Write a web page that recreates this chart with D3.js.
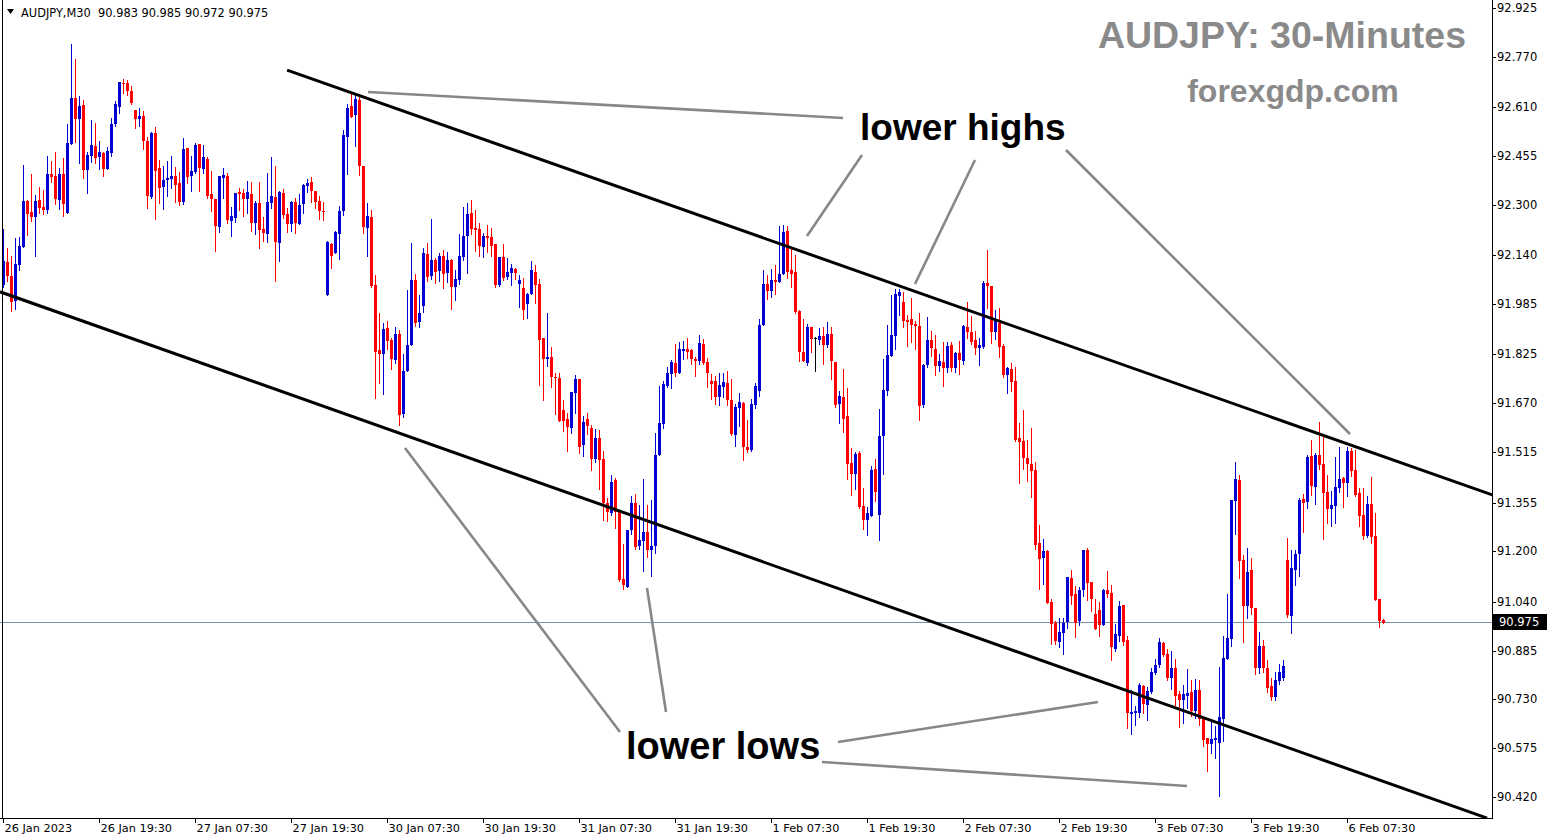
<!DOCTYPE html>
<html>
<head>
<meta charset="utf-8">
<script src="https://cdn.jsdelivr.net/npm/d3@7"></script>
<style>
  html, body { margin: 0; padding: 0; background: #fff; }
  svg { display: block; }
  text { white-space: pre; }
</style>
</head>
<body>
<svg id="chart" width="1550" height="840"></svg>
<script>
// ---------------- DATA (AUDJPY M30) ----------------
const symbol = "AUDJPY,M30";
const open = [
92.045,92.119,92.074,91.995,92.109,92.166,92.312,92.278,92.262,92.315,
92.293,92.284,92.398,92.392,92.315,92.398,92.274,92.493,92.639,92.572,
92.617,92.411,92.455,92.487,92.452,92.465,92.414,92.465,92.557,92.611,
92.686,92.686,92.662,92.601,92.572,92.582,92.503,92.325,92.528,92.417,
92.357,92.379,92.382,92.392,92.369,92.309,92.481,92.392,92.404,92.493,
92.414,92.446,92.334,92.318,92.230,92.385,92.392,92.249,92.258,92.341,
92.337,92.318,92.334,92.242,92.306,92.223,92.208,92.306,92.325,92.179,
92.337,92.271,92.239,92.309,92.239,92.303,92.360,92.373,92.344,92.312,
92.280,92.014,92.176,92.147,92.208,92.280,92.515,92.614,92.585,92.633,
92.423,92.227,92.262,92.045,91.839,91.826,91.909,91.871,91.807,91.890,
91.636,91.773,91.855,92.061,91.928,91.979,92.144,92.074,92.125,92.090,
92.138,92.083,92.125,92.039,92.061,92.134,92.201,92.274,92.226,92.223,
92.166,92.201,92.198,92.176,92.045,92.134,92.071,92.083,92.096,92.049,
92.036,91.985,92.017,92.087,92.049,91.877,91.810,91.817,91.754,91.750,
91.649,91.620,91.592,91.703,91.747,91.537,91.620,91.592,91.493,91.560,
91.493,91.353,91.321,91.426,91.328,91.112,91.087,91.268,91.353,91.217,
91.233,91.261,91.204,91.217,91.506,91.604,91.725,91.763,91.798,91.766,
91.836,91.842,91.839,91.810,91.804,91.858,91.801,91.741,91.741,91.690,
91.722,91.735,91.680,91.569,91.655,91.671,91.531,91.522,91.665,91.709,
91.918,92.049,92.026,92.061,92.055,92.080,92.217,92.093,92.087,91.963,
91.833,91.798,91.912,91.877,91.871,91.884,91.855,91.890,91.801,91.668,
91.690,91.630,91.480,91.445,91.512,91.344,91.299,91.312,91.461,91.315,
91.566,91.709,91.820,91.884,92.010,91.992,91.934,91.937,91.922,91.915,
91.665,91.792,91.871,91.842,91.788,91.801,91.782,91.855,91.782,91.830,
91.804,91.912,91.896,91.871,91.845,91.849,92.052,92.042,91.896,91.925,
91.852,91.760,91.779,91.741,91.560,91.550,91.496,91.477,91.458,91.226,
91.179,91.201,91.039,90.972,90.912,90.941,90.976,91.115,91.064,90.979,
91.077,91.204,91.103,91.001,91.014,90.966,91.077,91.068,90.890,90.931,
91.029,90.918,90.683,90.686,90.686,90.772,90.712,90.753,90.814,90.839,
90.909,90.874,90.798,90.829,90.747,90.728,90.741,90.753,90.693,90.760,
90.667,90.607,90.588,90.601,90.591,90.667,90.858,90.922,91.360,91.426,
91.172,91.026,91.141,91.020,90.829,90.899,90.829,90.772,90.738,90.788,
90.798,91.172,90.995,91.141,91.191,91.366,91.356,91.503,91.404,91.506,
91.477,91.388,91.334,91.344,91.401,91.433,91.417,91.518,91.458,91.385,
91.315,91.249,91.350,91.249,91.049,90.983];
const high = [
92.223,92.163,92.138,92.195,92.198,92.426,92.315,92.398,92.331,92.357,
92.347,92.455,92.439,92.468,92.417,92.449,92.557,92.810,92.763,92.646,
92.633,92.468,92.569,92.560,92.503,92.468,92.484,92.576,92.630,92.690,
92.699,92.696,92.677,92.601,92.608,92.598,92.515,92.531,92.547,92.442,
92.423,92.439,92.455,92.420,92.404,92.512,92.481,92.455,92.496,92.493,
92.490,92.452,92.407,92.318,92.392,92.417,92.401,92.293,92.337,92.353,
92.350,92.376,92.373,92.312,92.373,92.262,92.401,92.452,92.423,92.344,
92.350,92.290,92.312,92.322,92.334,92.366,92.382,92.389,92.344,92.328,
92.309,92.185,92.179,92.217,92.296,92.538,92.620,92.652,92.649,92.649,
92.423,92.306,92.284,92.077,91.956,91.925,91.931,91.877,91.912,91.903,
91.826,92.030,92.179,92.080,92.014,92.163,92.179,92.255,92.131,92.147,
92.157,92.150,92.128,92.093,92.207,92.293,92.306,92.315,92.284,92.242,
92.211,92.236,92.226,92.176,92.134,92.176,92.131,92.112,92.099,92.077,
92.068,92.020,92.122,92.109,92.064,91.877,91.956,91.849,91.766,91.766,
91.680,91.639,91.706,91.760,91.747,91.630,91.639,91.601,91.588,91.585,
91.519,91.369,91.442,91.433,91.328,91.223,91.268,91.376,91.382,91.347,
91.429,91.347,91.363,91.576,91.725,91.741,91.785,91.807,91.858,91.864,
91.868,91.877,91.842,91.817,91.887,91.874,91.814,91.763,91.757,91.766,
91.766,91.773,91.747,91.668,91.703,91.674,91.617,91.684,91.735,91.937,
92.093,92.077,92.096,92.109,92.233,92.236,92.233,92.163,92.141,91.966,
91.937,91.922,91.912,91.880,91.909,91.912,91.928,91.912,91.801,91.709,
91.779,91.719,91.528,91.515,91.519,91.401,91.341,91.471,91.493,91.652,
91.811,91.918,92.014,92.033,92.033,92.023,91.950,92.004,91.931,91.956,
91.795,91.944,91.899,91.887,91.826,91.864,91.864,91.864,91.833,91.868,
91.918,91.992,91.947,91.899,91.877,92.058,92.157,92.042,91.966,91.972,
91.858,91.785,91.798,91.785,91.607,91.649,91.553,91.591,91.484,91.283,
91.239,91.204,91.049,90.979,90.988,90.988,91.118,91.141,91.090,91.087,
91.204,91.210,91.103,91.049,91.039,91.080,91.138,91.093,90.969,91.042,
91.029,90.931,90.760,90.709,90.782,90.775,90.769,90.829,90.858,90.925,
90.912,90.890,90.884,90.858,90.757,90.775,90.826,90.791,90.794,90.791,
90.667,90.607,90.664,90.645,90.833,90.931,91.064,91.363,91.484,91.442,
91.188,91.210,91.179,91.020,90.944,90.918,90.855,90.798,90.817,90.842,
90.855,91.242,91.204,91.204,91.369,91.382,91.506,91.553,91.512,91.611,
91.573,91.442,91.391,91.499,91.531,91.436,91.531,91.528,91.522,91.401,
91.401,91.376,91.436,91.321,91.049,90.985];
const low = [
92.039,92.058,91.963,91.969,92.093,92.166,92.204,92.249,92.138,92.274,
92.271,92.274,92.373,92.303,92.287,92.265,92.274,92.493,92.500,92.433,
92.385,92.337,92.436,92.433,92.414,92.392,92.414,92.455,92.550,92.592,
92.655,92.649,92.620,92.544,92.550,92.477,92.290,92.322,92.255,92.306,
92.287,92.328,92.353,92.309,92.299,92.303,92.369,92.344,92.401,92.344,
92.401,92.322,92.280,92.154,92.214,92.322,92.242,92.201,92.246,92.284,
92.265,92.274,92.217,92.208,92.163,92.185,92.182,92.290,92.058,92.122,
92.258,92.214,92.217,92.211,92.239,92.274,92.341,92.309,92.290,92.255,
92.252,92.014,92.099,92.147,92.128,92.268,92.398,92.579,92.487,92.395,
92.211,92.138,92.039,91.687,91.734,91.699,91.842,91.779,91.798,91.601,
91.626,91.773,91.855,91.915,91.912,91.960,92.058,92.064,92.052,92.058,
92.036,92.055,91.969,91.998,92.049,92.125,92.083,92.207,92.154,92.138,
92.134,92.150,92.138,92.039,92.042,92.061,92.064,92.045,92.064,91.975,
91.937,91.941,92.017,91.988,91.728,91.680,91.788,91.722,91.636,91.614,
91.582,91.518,91.576,91.639,91.512,91.503,91.572,91.458,91.484,91.398,
91.299,91.296,91.315,91.274,91.106,91.080,91.087,91.255,91.207,91.207,
91.138,91.182,91.122,91.195,91.506,91.592,91.722,91.719,91.757,91.766,
91.810,91.814,91.795,91.757,91.795,91.795,91.722,91.684,91.668,91.665,
91.690,91.665,91.569,91.534,91.598,91.490,91.515,91.519,91.655,91.693,
91.918,92.001,92.007,92.017,92.055,92.080,92.068,92.039,91.956,91.804,
91.804,91.792,91.833,91.773,91.858,91.795,91.849,91.747,91.658,91.607,
91.579,91.429,91.379,91.398,91.337,91.271,91.252,91.312,91.360,91.236,
91.445,91.696,91.820,91.842,91.950,91.912,91.852,91.865,91.842,91.617,
91.658,91.785,91.820,91.760,91.773,91.725,91.769,91.773,91.769,91.763,
91.795,91.877,91.858,91.826,91.792,91.845,91.972,91.861,91.874,91.817,
91.754,91.703,91.709,91.550,91.417,91.461,91.423,91.372,91.207,91.080,
91.096,91.036,90.906,90.906,90.896,90.874,90.957,91.033,90.928,90.966,
91.058,91.045,91.011,90.953,90.931,90.966,91.055,90.855,90.884,90.915,
90.903,90.639,90.620,90.648,90.674,90.686,90.664,90.750,90.810,90.833,
90.868,90.791,90.763,90.712,90.642,90.655,90.703,90.677,90.671,90.648,
90.582,90.503,90.560,90.544,90.423,90.598,90.858,90.899,91.255,91.115,
90.912,90.988,91.001,90.810,90.814,90.817,90.753,90.728,90.728,90.779,
90.791,90.991,90.941,91.093,91.122,91.261,91.337,91.379,91.350,91.461,
91.239,91.290,91.280,91.290,91.388,91.341,91.376,91.439,91.376,91.280,
91.239,91.245,91.226,91.045,90.960,90.972];
const close = [
92.122,92.074,91.992,92.112,92.169,92.312,92.271,92.262,92.312,92.290,
92.284,92.398,92.389,92.318,92.398,92.303,92.496,92.639,92.572,92.614,
92.411,92.458,92.490,92.449,92.468,92.414,92.471,92.557,92.620,92.690,
92.683,92.662,92.623,92.572,92.582,92.503,92.328,92.528,92.407,92.353,
92.379,92.385,92.392,92.363,92.309,92.477,92.389,92.407,92.490,92.417,
92.452,92.328,92.318,92.233,92.392,92.395,92.252,92.265,92.337,92.334,
92.318,92.341,92.242,92.306,92.220,92.211,92.309,92.328,92.182,92.341,
92.268,92.239,92.309,92.242,92.299,92.363,92.369,92.344,92.309,92.280,
92.277,92.182,92.138,92.214,92.280,92.522,92.608,92.579,92.636,92.423,
92.230,92.265,92.042,91.833,91.826,91.906,91.868,91.810,91.890,91.633,
91.773,91.855,92.061,91.925,91.956,92.147,92.071,92.125,92.087,92.138,
92.080,92.125,92.039,92.064,92.138,92.201,92.271,92.223,92.220,92.169,
92.201,92.195,92.169,92.045,92.134,92.068,92.087,92.099,92.083,92.061,
91.966,92.017,92.093,92.045,91.871,91.810,91.817,91.754,91.750,91.614,
91.614,91.595,91.706,91.747,91.531,91.611,91.598,91.493,91.560,91.490,
91.353,91.325,91.420,91.325,91.109,91.093,91.268,91.353,91.214,91.236,
91.261,91.204,91.217,91.506,91.608,91.731,91.766,91.801,91.766,91.842,
91.842,91.833,91.810,91.804,91.861,91.798,91.766,91.731,91.690,91.728,
91.738,91.680,91.572,91.658,91.674,91.531,91.522,91.668,91.725,91.918,
92.049,92.026,92.061,92.055,92.080,92.214,92.087,92.080,91.960,91.833,
91.804,91.912,91.874,91.877,91.884,91.855,91.890,91.804,91.665,91.693,
91.620,91.477,91.445,91.509,91.341,91.299,91.321,91.458,91.388,91.566,
91.712,91.823,91.887,92.017,92.023,91.931,91.928,91.918,91.915,91.661,
91.792,91.871,91.845,91.788,91.804,91.782,91.852,91.782,91.830,91.807,
91.915,91.896,91.865,91.845,91.855,92.052,92.042,91.896,91.937,91.849,
91.760,91.782,91.738,91.553,91.547,91.496,91.477,91.455,91.220,91.175,
91.201,91.036,90.969,90.915,90.944,90.972,91.118,91.058,90.972,91.077,
91.204,91.099,91.049,90.953,90.966,91.077,91.064,90.896,90.937,91.026,
90.912,90.686,90.690,90.693,90.775,90.715,90.757,90.817,90.839,90.912,
90.871,90.798,90.829,90.741,90.728,90.747,90.750,90.693,90.760,90.667,
90.601,90.588,90.604,90.607,90.674,90.861,90.925,91.363,91.429,91.169,
91.026,91.134,91.020,90.829,90.899,90.829,90.766,90.738,90.791,90.817,
90.836,90.998,91.147,91.191,91.363,91.353,91.499,91.407,91.506,91.474,
91.385,91.334,91.347,91.404,91.429,91.417,91.518,91.455,91.379,91.312,
91.249,91.350,91.245,91.045,90.979,90.975];

// time axis labels (bar index -> label)
const timeTickIndex = [0,24,48,72,96,120,144,168,192,216,240,264,288,312,336];
const timeTickLabels = ["26 Jan 2023","26 Jan 19:30","27 Jan 07:30","27 Jan 19:30","30 Jan 07:30",
  "30 Jan 19:30","31 Jan 07:30","31 Jan 19:30","1 Feb 07:30","1 Feb 19:30","2 Feb 07:30",
  "2 Feb 19:30","3 Feb 07:30","3 Feb 19:30","6 Feb 07:30"];
// price axis labels
const priceTicks = [92.925,92.770,92.610,92.455,92.300,92.140,91.985,91.825,91.670,91.515,
  91.355,91.200,91.040,90.885,90.730,90.575,90.420];
const lastPrice = 90.975;
// channel lines: [bar index, price]
const upperChannel = [[70.9, 92.728], [372.2, 91.379]];
const lowerChannel = [[-0.875, 92.024], [370.9, 90.353]];

// ---------------- LAYOUT ----------------
const W = 1550, H = 840;
const plotRight = 1492, plotBottom = 818;
const svg = d3.select("#chart");
svg.append("rect").attr("width", W).attr("height", H).attr("fill", "#fff");

const x = d3.scaleLinear().domain([0, open.length - 1]).range([3.5, 3.5 + 4 * (open.length - 1)]);
const y = d3.scaleLinear().domain([90.420, 92.925]).range([797, 8]);

const BLUE = "#0000d0", RED = "#ff0000";
const bars = open.map((o, i) => ({ i, o, h: high[i], l: low[i], c: close[i] }));
const col = d => d.c > d.o ? BLUE : (d.c < d.o ? RED : "#000");

svg.append("defs").append("clipPath").attr("id", "plotclip")
  .append("rect").attr("x", 0).attr("y", 0).attr("width", plotRight).attr("height", plotBottom);

const plot = svg.append("g").attr("clip-path", "url(#plotclip)");

// current price line
plot.append("line")
  .attr("x1", 0).attr("x2", plotRight)
  .attr("y1", Math.round(y(lastPrice)) + 0.5).attr("y2", Math.round(y(lastPrice)) + 0.5)
  .attr("stroke", "#7890a8").attr("stroke-width", 1);

// candles
const cg = plot.append("g").attr("shape-rendering", "crispEdges");
cg.selectAll("line.wick").data(bars).join("line")
  .attr("class", "wick")
  .attr("x1", d => x(d.i)).attr("x2", d => x(d.i))
  .attr("y1", d => Math.round(y(d.h))).attr("y2", d => Math.round(y(d.l)) + 1)
  .attr("stroke", col).attr("stroke-width", 1);
cg.selectAll("rect.body").data(bars).join("rect")
  .attr("class", "body")
  .attr("x", d => x(d.i) - 1.5).attr("width", 3)
  .attr("y", d => Math.round(Math.min(y(d.o), y(d.c))))
  .attr("height", d => Math.max(1, Math.round(Math.abs(y(d.o) - y(d.c)))))
  .attr("fill", col);

// channel lines
[upperChannel, lowerChannel].forEach(pts => {
  plot.append("line")
    .attr("x1", x(pts[0][0])).attr("y1", y(pts[0][1]))
    .attr("x2", x(pts[1][0])).attr("y2", y(pts[1][1]))
    .attr("stroke", "#000").attr("stroke-width", 3);
});

// annotation pointers (gray)
const pointers = [
  [368, 92, 843, 118], [862, 155, 807, 236], [975, 160, 915, 284], [1066, 150, 1350, 434],
  [405, 448, 620, 732], [647, 588, 666, 712], [838, 742, 1098, 702], [822, 762, 1187, 786]
];
plot.selectAll("line.ptr").data(pointers).join("line")
  .attr("class", "ptr")
  .attr("x1", d => d[0]).attr("y1", d => d[1]).attr("x2", d => d[2]).attr("y2", d => d[3])
  .attr("stroke", "#878787").attr("stroke-width", 2.6);

// annotation texts
const annFont = "'Liberation Sans', Arial, sans-serif";
svg.append("text").attr("x", 860).attr("y", 140).text("lower highs")
  .attr("font-family", annFont).attr("font-weight", "bold").attr("font-size", 37).attr("fill", "#000");
svg.append("text").attr("x", 626).attr("y", 759).text("lower lows")
  .attr("font-family", annFont).attr("font-weight", "bold").attr("font-size", 38).attr("fill", "#000");

// title
svg.append("text").attr("x", 1466).attr("y", 48).attr("text-anchor", "end").text("AUDJPY: 30-Minutes")
  .attr("font-family", annFont).attr("font-weight", "bold").attr("font-size", 37.5).attr("fill", "#8a8a8a");
svg.append("text").attr("x", 1293).attr("y", 102).attr("text-anchor", "middle").text("forexgdp.com")
  .attr("font-family", annFont).attr("font-weight", "bold").attr("font-size", 32).attr("fill", "#8a8a8a");

// header
const axFont = "'DejaVu Sans', sans-serif";
svg.append("path").attr("d", "M7,9 L14,9 L10.5,14 Z").attr("fill", "#000");
svg.append("text").attr("x", 21).attr("y", 17)
  .text(symbol + "  " + [open[open.length-1], high[high.length-1], low[low.length-1], close[close.length-1]].map(v => v.toFixed(3)).join(" "))
  .attr("font-family", axFont).attr("font-size", 11.4).attr("fill", "#000");

// frame / axes
const ax = svg.append("g").attr("shape-rendering", "crispEdges");
ax.append("line").attr("x1", plotRight + 0.5).attr("x2", plotRight + 0.5).attr("y1", 0).attr("y2", plotBottom + 1)
  .attr("stroke", "#000");
ax.append("line").attr("x1", 0).attr("x2", plotRight + 1).attr("y1", plotBottom + 0.5).attr("y2", plotBottom + 0.5)
  .attr("stroke", "#000");
ax.append("line").attr("x1", 2.5).attr("x2", 2.5).attr("y1", 0).attr("y2", plotBottom)
  .attr("stroke", "#000");

// price axis
const pa = svg.append("g");
pa.selectAll("line").data(priceTicks).join("line")
  .attr("shape-rendering", "crispEdges")
  .attr("x1", plotRight).attr("x2", plotRight + 4)
  .attr("y1", d => Math.round(y(d)) + 0.5).attr("y2", d => Math.round(y(d)) + 0.5)
  .attr("stroke", "#000");
pa.selectAll("text").data(priceTicks).join("text")
  .attr("x", 1497).attr("y", d => Math.round(y(d)) + 4)
  .text(d => d.toFixed(3))
  .attr("font-family", axFont).attr("font-size", 11.5).attr("fill", "#000");

// last price tag
const ly = Math.round(y(lastPrice));
svg.append("rect").attr("x", 1493).attr("y", ly - 8).attr("width", 54).attr("height", 16).attr("fill", "#000");
svg.append("text").attr("x", 1499).attr("y", ly + 4).text(lastPrice.toFixed(3))
  .attr("font-family", axFont).attr("font-size", 11.5).attr("fill", "#fff");

// time axis
const ta = svg.append("g");
ta.selectAll("line").data(timeTickIndex).join("line")
  .attr("shape-rendering", "crispEdges")
  .attr("x1", d => Math.floor(x(d)) + 0.5).attr("x2", d => Math.floor(x(d)) + 0.5)
  .attr("y1", plotBottom).attr("y2", plotBottom + 5)
  .attr("stroke", "#000");
ta.selectAll("text").data(timeTickIndex).join("text")
  .attr("x", d => x(d) + 1).attr("y", 832)
  .text((d, k) => timeTickLabels[k])
  .attr("font-family", axFont).attr("font-size", 11.3).attr("fill", "#000");
</script>
</body>
</html>
